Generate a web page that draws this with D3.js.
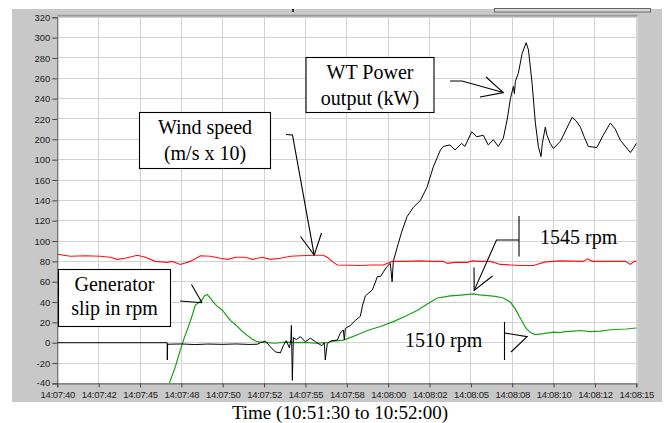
<!DOCTYPE html>
<html>
<head>
<meta charset="utf-8">
<script src="https://cdn.jsdelivr.net/npm/d3@7"></script>
<style>
  body { margin: 0; background: #fff; }
  svg { display: block; }
</style>
</head>
<body>
<svg id="chart" width="665" height="423"></svg>
<script>
// Time axis: seconds after 14:07:40, one label every 2.5 s
const timeLabels = ["14:07:40","14:07:42","14:07:45","14:07:48","14:07:50","14:07:52","14:07:55",
  "14:07:58","14:08:00","14:08:02","14:08:05","14:08:08","14:08:10","14:08:12","14:08:15"];
const tickStep = 2.5;

// Value axis labels, top to bottom (as printed on the instrument panel)
const yTickValues = [320,300,280,260,240,220,200,180,160,140,120,100,80,60,40,20,0,-20,-40];
const yTickLabels = ["320","300","280","260","240","220","200","100","160","140","120","100","80","60","40","20","0","-20","-40"];

// Wind speed (m/s x 10)
const windT = [0,0.79,1.69,2.6,3.2,3.63,4.1,4.84,5.32,5.92,6.65,6.95,7.44,8.04,8.65,9.25,9.85,10.34,10.76,
  11.37,11.79,12.39,12.88,13.48,14.09,14.69,15.54,16.08,16.32,16.69,16.93,17.6,18.32,19.0,19.71,20.25,
  21.0,21.95,22.6,23.34,23.58,24.06,24.79,25.09,25.6,26.18,26.78,27.4,27.99,28.78,29.5,30.41,31.2,31.8,
  32.04,32.35,33.2,34.34,34.64,34.88,35];
const windV = [87,85,85.5,85,84,82,83,86,84,80,79,80,77,80,85.5,85,83,82,84,
  84,82,84,82,83,85,85.5,86,86,84,79,76.5,76.2,76,76.4,76.5,80,
  80,80.5,80,80,78,79,79,80.5,80,80,77,76.5,76,76,79.5,80.5,80.2,80,
  82.5,80,80,80,77,80,80];

// Generator slip (rpm)
const slipT = [6.77,7.13,7.44,7.68,7.92,8.16,8.34,8.52,8.75,8.89,9.05,9.25,9.43,9.66,9.98,10.22,10.46,10.82,
  11.19,11.49,11.79,12.09,12.58,13.18,13.78,14.39,14.99,15.6,16.26,16.69,17.29,17.71,18.32,18.74,19.53,
  20.31,21.04,21.77,22.37,22.97,23.4,23.76,24.2,24.55,25.15,25.5,25.88,26.48,26.96,27.39,27.69,27.99,
  28.3,28.6,28.9,29.38,29.99,30.4,30.71,31.2,31.62,32.2,32.83,33.3,33.74,34.4,35];
const slipV = [-40,-24,-7,5,15.7,27,37,39,42,46,47.5,44,40,36,32,27,22,17,
  11,7,3.5,1,0,-0.5,0.5,0,0.3,-0.5,0,1.5,2.6,5,9,12,16,
  20.7,26,32,38,44,45,46,46.5,47,48,47,46.5,45.5,44,40,33,24,
  15,10,8,9,10.5,10,11,11.5,12,11,11.5,12.5,13,13.5,14.5];

// Wind turbine power output (kW)
const powerT = [0,6.64,6.65,6.67,6.7,7.5,8.3,9.1,10.0,10.8,11.6,12.09,12.27,12.58,12.88,13.18,13.48,13.66,
  13.84,14.03,14.12,14.15,14.21,14.27,14.45,14.69,14.99,15.3,15.6,16.0,16.14,16.2,16.32,16.56,16.93,17.11,
  17.29,17.35,17.41,17.71,18.02,18.32,18.44,18.62,19.05,19.35,19.53,19.93,20.13,20.24,20.31,20.55,20.8,
  21.14,21.52,21.95,22.35,22.73,23.16,23.33,23.74,24.04,24.44,24.64,25.05,25.35,25.75,26.05,26.36,26.66,26.96,
  27.19,27.39,27.57,27.63,27.69,27.87,28.1,28.34,28.48,28.7,28.9,29.08,29.24,29.32,29.5,29.6,29.8,29.99,
  30.41,30.77,31.12,31.37,31.62,31.86,32.1,32.62,33.0,33.43,33.73,34.04,34.64,34.82,35];
const powerV = [0,0,-17,-1,-1.5,-1.2,-1.8,-1.3,-1.6,-1.2,-1.7,-1.5,0,1.5,-4,-9,-10,-3,
  2,-5,3,17,-37,5,3,6,1,4.5,1,-3,0,-17,-1,2,2.6,9.5,
  12.5,3,14,17,22,26,36,46,52,65,65,75,78,60,80,94,108,
  124,133,140,153,173,189.5,193,194.5,189.5,196,193,207.5,202.5,204,194.5,199.5,193,201,
  219,240,252,245,257,265,284.5,295,288,255,216,193,183,196,212,204,196,191,
  198,210,221.6,218,212,202,193,192,204,216,210,199,187,191,196];

const svg = d3.select("#chart");
const plot = { left: 57.3, right: 636.3, top: 17.3, bottom: 383.4 };

const x = d3.scaleLinear().domain([0, (timeLabels.length - 1) * tickStep]).range([plot.left, plot.right]);
const y = d3.scaleLinear().domain([-40, 320]).range([plot.bottom, plot.top]);

// Panel background
svg.append("rect").attr("x", 12).attr("y", 9).attr("width", 650).attr("height", 393).attr("fill", "#c8c8c8");
// small widget strip on the panel top edge
svg.append("rect").attr("x", 494.5).attr("y", 8.5).attr("width", 156).attr("height", 3.5)
  .attr("fill", "#d6d6d6").attr("stroke", "#666").attr("stroke-width", 1);
svg.append("rect").attr("x", 292).attr("y", 9).attr("width", 2).attr("height", 3).attr("fill", "#333");

// Plot area
svg.append("rect").attr("x", plot.left).attr("y", plot.top - 1)
  .attr("width", plot.right - plot.left + 1).attr("height", plot.bottom - plot.top + 1)
  .attr("fill", "#fff");
svg.append("line").attr("x1", plot.left).attr("x2", plot.right + 1)
  .attr("y1", plot.top - 1.5).attr("y2", plot.top - 1.5).attr("stroke", "#9a9a9a").attr("stroke-width", 2);

// Grid
const grid = svg.append("g").attr("stroke", "#d2d2d2").attr("stroke-width", 1).attr("shape-rendering", "crispEdges");
grid.selectAll("line.h").data(yTickValues).join("line").attr("class", "h")
  .attr("x1", plot.left).attr("x2", plot.right).attr("y1", d => y(d)).attr("y2", d => y(d));
grid.selectAll("line.v").data(timeLabels).join("line").attr("class", "v")
  .attr("x1", (d, i) => x(i * tickStep)).attr("x2", (d, i) => x(i * tickStep))
  .attr("y1", plot.top).attr("y2", plot.bottom);

// Axes
const yAxis = d3.axisLeft(y).tickValues(yTickValues).tickSize(5).tickPadding(2)
  .tickFormat((d, i) => yTickLabels[i]);
const gy = svg.append("g").attr("transform", `translate(${plot.left},0)`).call(yAxis);
const xAxis = d3.axisBottom(x).tickValues(timeLabels.map((d, i) => i * tickStep)).tickSize(4).tickPadding(4)
  .tickFormat((d, i) => timeLabels[i]);
const gx = svg.append("g").attr("transform", `translate(0,${plot.bottom})`).call(xAxis);
[gy, gx].forEach(g => {
  g.select(".domain").attr("stroke", "#555");
  g.selectAll(".tick line").attr("stroke", "#444");
  g.selectAll("text").attr("fill", "#222").style("font-family", "'Liberation Sans', Arial, sans-serif")
    .style("font-size", "9.5px");
});
gx.selectAll("text").attr("letter-spacing", "-0.3");
// keep the lowest value label clear of the time labels
gy.selectAll(".tick").filter(d => d === -40).select("text").attr("dy", "0.2em");

// Series
const line = d3.line().x(d => x(d[0])).y(d => y(d[1]));
svg.append("clipPath").attr("id", "plotclip").append("rect")
  .attr("x", plot.left).attr("y", plot.top).attr("width", plot.right - plot.left + 1).attr("height", plot.bottom - plot.top);
const series = svg.append("g").attr("clip-path", "url(#plotclip)").attr("fill", "none");
series.append("path").datum(d3.zip(windT, windV)).attr("d", line).attr("stroke", "#ff1010").attr("stroke-width", 1.1);
series.append("path").datum(d3.zip(slipT, slipV)).attr("d", line).attr("stroke", "#16a016").attr("stroke-width", 1.2);
series.append("path").datum(d3.zip(powerT, powerV)).attr("d", line).attr("stroke", "#000").attr("stroke-width", 1);

// Annotations
const serif = "'Liberation Serif', 'Times New Roman', serif";
const ann = svg.append("g").attr("stroke", "#000").attr("fill", "none").attr("stroke-width", 1.1);
function box(x0, y0, w, h, lines, baselines) {
  ann.append("rect").attr("x", x0).attr("y", y0).attr("width", w).attr("height", h).attr("fill", "#fff");
  lines.forEach((t, i) => {
    svg.append("text").attr("x", x0 + w / 2).attr("y", baselines[i]).attr("text-anchor", "middle")
      .style("font-family", serif).style("font-size", "20px").attr("fill", "#000").text(t);
  });
}
function poly(pts) {
  ann.append("polyline").attr("points", pts.map(p => p.join(",")).join(" "));
}

// WT power output
box(306, 57.5, 128, 55, ["WT Power", "output (kW)"], [79, 105]);
const pTip = [x(26.96), y(246)];
poly([[450, 81], [462, 81], pTip]);
poly([[486, 77], pTip, [480, 97]]);

// Wind speed
box(139.5, 112.5, 131, 56, ["Wind speed", "(m/s x 10)"], [134, 160]);
const wTip = [x(15.53), y(86.2)];
poly([[286, 134.5], [292.5, 135], wTip]);
poly([[300.5, 236.5], wTip, [321.5, 233]]);

// Generator slip
box(58.5, 269.5, 112, 57, ["Generator", "slip in rpm"], [291, 315]);
const gTip = [x(8.75), y(39.3)];
poly([[180, 301], gTip]);
poly([[191.5, 284.5], gTip]);

// 1545 rpm marker
const hTip = [x(25.2), y(51.5)];
poly([[519, 216], [519, 256.5]]);
poly([[519, 240], [496.5, 240], hTip]);
poly([[474, 267.5], hTip, [492.5, 276]]);
svg.append("text").attr("x", 540).attr("y", 244).style("font-family", serif).style("font-size", "20px")
  .attr("fill", "#000").text("1545 rpm");

// 1510 rpm marker
const lTip = [x(28.4), y(6)];
poly([[504.5, 322], [504.5, 360]]);
poly([[504.5, 333], lTip, [511, 352]]);
svg.append("text").attr("x", 405).attr("y", 347).style("font-family", serif).style("font-size", "20px")
  .attr("fill", "#000").text("1510 rpm");

// Axis title
svg.append("text").attr("x", 340).attr("y", 419).attr("text-anchor", "middle")
  .style("font-family", serif).style("font-size", "19px").attr("fill", "#000")
  .text("Time (10:51:30 to 10:52:00)");
</script>
</body>
</html>
